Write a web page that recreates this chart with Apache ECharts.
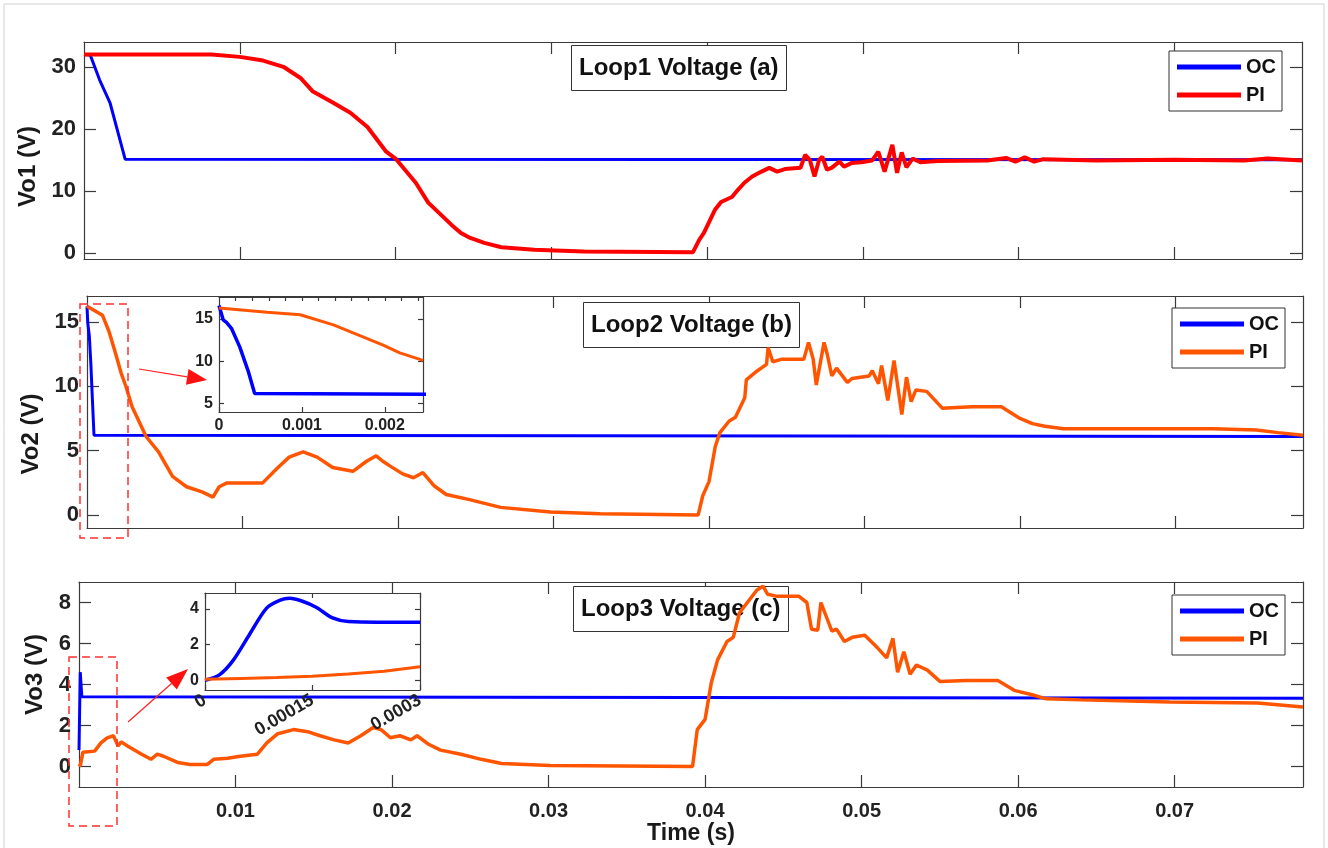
<!DOCTYPE html>
<html>
<head>
<meta charset="utf-8">
<title>Loop voltages</title>
<script src="https://cdn.jsdelivr.net/npm/echarts@6.0.0/dist/echarts.min.js"></script>
<style>
  html, body { margin: 0; padding: 0; background: #fff; }
  #chart { width: 1328px; height: 848px; }
</style>
</head>
<body>
<div id="chart"></div>
<script>
// ---- data: [time (s), voltage (V)] ----
var loop1OC = [[0, 32], [0.0004, 31.9], [0.001, 27.9], [0.00167, 24.2], [0.00264, 15.1], [0.0782, 15.0]];
var loop1PI = [[0, 32], [0.0082, 32], [0.0100, 31.6], [0.0115, 31.0], [0.0128, 30.0], [0.0139, 28.2],
  [0.0147, 26.0], [0.0160, 24.2], [0.0171, 22.6], [0.0182, 20.3], [0.0194, 16.3], [0.0200, 15.2],
  [0.0213, 11.3], [0.0221, 8.1], [0.0236, 4.5], [0.0242, 3.2], [0.0248, 2.4], [0.0257, 1.6],
  [0.0268, 0.9], [0.0289, 0.5], [0.0321, 0.2], [0.0391, 0.1], [0.0395, 2.1], [0.0398, 3.2],
  [0.0401, 4.8], [0.0405, 6.9], [0.0409, 8.2], [0.0416, 9.0], [0.0420, 10.2], [0.0424, 11.3],
  [0.0429, 12.3], [0.0435, 13.1], [0.0440, 13.7], [0.0445, 13.1], [0.0450, 13.5], [0.0460, 13.7],
  [0.0463, 15.8], [0.0466, 15.0], [0.0469, 12.3], [0.0472, 15.0], [0.0474, 15.5], [0.0477, 13.4],
  [0.0480, 13.7], [0.0485, 14.7], [0.0488, 13.9], [0.0493, 14.5], [0.0499, 14.6], [0.0506, 14.9],
  [0.0510, 16.3], [0.0514, 13.1], [0.0519, 17.4], [0.0522, 12.9], [0.0525, 16.2], [0.0528, 13.8],
  [0.0532, 15.2], [0.0537, 14.6], [0.0548, 14.8], [0.0580, 14.9], [0.0592, 15.3], [0.0598, 14.7],
  [0.0604, 15.4], [0.0610, 14.7], [0.0616, 15.1], [0.0650, 14.9], [0.0700, 15.0], [0.0745, 14.9],
  [0.0760, 15.2], [0.0782, 14.9]];

var loop2OC = [[0, 16.2], [0.00005, 14.9], [0.00015, 13.9], [0.00025, 11.7], [0.00035, 8.9],
  [0.00045, 6.2], [0.0782, 6.1]];
var loop2PI = [[0, 16.2], [0.0010, 15.5], [0.0014, 14.3], [0.0018, 12.7], [0.0022, 11.0], [0.0025, 10.0],
  [0.0029, 8.4], [0.0038, 6.1], [0.0046, 4.9], [0.0055, 3.0], [0.0064, 2.2], [0.0074, 1.8],
  [0.0081, 1.4], [0.0085, 2.2], [0.0090, 2.5], [0.0113, 2.5], [0.0122, 3.6], [0.0130, 4.5],
  [0.0139, 4.9], [0.0148, 4.5], [0.0158, 3.7], [0.0171, 3.4], [0.0180, 4.2], [0.0186, 4.6],
  [0.0190, 4.2], [0.0195, 3.8], [0.0203, 3.2], [0.0210, 2.9], [0.0216, 3.3], [0.0223, 2.3],
  [0.0231, 1.6], [0.0246, 1.2], [0.0266, 0.6], [0.0298, 0.25], [0.0330, 0.1], [0.0393, 0],
  [0.0396, 1.5], [0.0400, 2.6], [0.0404, 5.3], [0.0407, 6.4], [0.0413, 7.3], [0.0417, 7.6],
  [0.0423, 9.1], [0.0424, 10.5], [0.0430, 11.1], [0.0437, 11.7], [0.0438, 13.0], [0.0441, 11.9],
  [0.0447, 12.1], [0.0461, 12.1], [0.0464, 13.4], [0.0467, 12.1], [0.0469, 10.1], [0.0474, 13.4],
  [0.0476, 12.5], [0.0479, 10.8], [0.0482, 11.4], [0.0489, 10.3], [0.0492, 10.6], [0.0503, 10.8],
  [0.0505, 11.2], [0.0509, 10.2], [0.0511, 11.6], [0.0515, 8.9], [0.0519, 12.0], [0.0524, 7.8],
  [0.0527, 10.7], [0.0530, 8.8], [0.0533, 9.7], [0.0540, 9.6], [0.0550, 8.3], [0.0569, 8.4],
  [0.0588, 8.4], [0.0600, 7.5], [0.0608, 7.1], [0.0616, 6.9], [0.0628, 6.7], [0.0667, 6.7],
  [0.0724, 6.7], [0.0752, 6.6], [0.0766, 6.4], [0.0782, 6.2]];
var loop2InsetOC = [[0, 16.6], [0.00005, 14.9], [0.00009, 14.6], [0.00015, 13.9], [0.00025, 11.7],
  [0.00035, 8.9], [0.00043, 6.2], [0.0025, 6.1]];
var loop2InsetPI = [[0, 16.3], [0.00058, 15.8], [0.00098, 15.5], [0.00138, 14.3], [0.00178, 12.7],
  [0.00198, 11.9], [0.00218, 11.0], [0.00246, 10.1]];

var loop3OC = [[0, 0.8], [0.00008, 4.6], [0.00018, 3.4], [0.0782, 3.33]];
var loop3PI = [[0, 0], [0.0001, 0.1], [0.00025, 0.7], [0.0010, 0.75], [0.0014, 1.15], [0.0018, 1.4],
  [0.0022, 1.5], [0.0025, 1.0], [0.0027, 1.2], [0.0031, 1.0], [0.0040, 0.6], [0.0046, 0.35],
  [0.0050, 0.6], [0.0054, 0.5], [0.0063, 0.2], [0.0071, 0.1], [0.0082, 0.1], [0.0086, 0.35],
  [0.0095, 0.4], [0.0103, 0.5], [0.0114, 0.6], [0.0120, 1.15], [0.0127, 1.6], [0.0137, 1.8],
  [0.0146, 1.7], [0.0154, 1.5], [0.0163, 1.3], [0.0172, 1.15], [0.0180, 1.5], [0.0188, 1.9],
  [0.0193, 1.8], [0.0199, 1.4], [0.0205, 1.5], [0.0212, 1.3], [0.0216, 1.5], [0.0223, 1.1],
  [0.0231, 0.8], [0.0244, 0.6], [0.0257, 0.35], [0.0270, 0.15], [0.0301, 0.05], [0.0392, 0],
  [0.0395, 1.8], [0.0400, 2.3], [0.0404, 4.1], [0.0408, 5.2], [0.0414, 6.1], [0.0418, 6.3],
  [0.0422, 7.5], [0.0428, 8.1], [0.0433, 8.6], [0.0437, 8.8], [0.0440, 8.4], [0.0446, 8.3],
  [0.0460, 8.3], [0.0465, 8.0], [0.0468, 6.7], [0.0472, 6.65], [0.0474, 8.0], [0.0479, 7.0],
  [0.0481, 6.6], [0.0484, 6.7], [0.0489, 6.1], [0.0494, 6.3], [0.0502, 6.4], [0.0510, 5.8],
  [0.0516, 5.3], [0.0520, 6.25], [0.0523, 4.6], [0.0527, 5.6], [0.0531, 4.5], [0.0535, 4.95],
  [0.0542, 4.7], [0.0550, 4.15], [0.0567, 4.2], [0.0587, 4.2], [0.0598, 3.7], [0.0609, 3.5],
  [0.0618, 3.3], [0.0640, 3.25], [0.0697, 3.15], [0.0753, 3.1], [0.0782, 2.9]];
var loop3InsetOC = [[0, 0], [0.00002, 0.3], [0.000039, 1.1], [0.0000625, 2.6], [0.000086, 4.05],
  [0.000105, 4.5], [0.000118, 4.6], [0.000135, 4.45], [0.000155, 4.1], [0.000178, 3.5],
  [0.0002, 3.3], [0.0003, 3.25]];
var loop3InsetPI = [[0, 0.05], [0.00005, 0.1], [0.0001, 0.15], [0.00015, 0.22], [0.0002, 0.35],
  [0.00025, 0.5], [0.0003, 0.75]];

// ---- tick values ----
var timeTicks = [0.01, 0.02, 0.03, 0.04, 0.05, 0.06, 0.07];
var vo1Ticks = [0, 10, 20, 30];
var vo2Ticks = [0, 5, 10, 15];
var vo3Ticks = [0, 2, 4, 6, 8];
var inset2TimeTicks = [0, 0.001, 0.002];
var inset2MinorTicks = [0.0002, 0.0004, 0.0006, 0.0008, 0.001, 0.0012, 0.0014, 0.0016, 0.0018, 0.002, 0.0022, 0.0024];
var inset2VoltTicks = [5, 10, 15];
var inset3TimeTicks = [0, 0.00015, 0.0003];
var inset3VoltTicks = [0, 2, 4];

var FONT = '"Liberation Sans", Arial, Helvetica, sans-serif';
var AXIS = '#3a3a3a';
var BLUE = '#0000ff';
var RED = '#ff0000';
var ORANGE = '#ff5500';
var xMax = 0.0782;

var myChart = echarts.init(document.getElementById('chart'), null, { renderer: 'canvas' });

function fmt(v) { return String(v); }

// value axis with inward ticks; labels optional
function axis(o) {
  return {
    type: 'value',
    gridIndex: o.grid,
    position: o.position,
    min: o.min,
    max: o.max,
    z: o.z || 0,
    name: o.name || '',
    nameLocation: 'middle',
    nameGap: o.nameGap || 30,
    nameTextStyle: { fontFamily: FONT, fontSize: o.nameSize || 23, fontWeight: 'bold', color: '#1a1a1a',
      padding: o.namePad || 0 },
    axisLine: { show: true, onZero: false, lineStyle: { color: AXIS, width: 1.2 } },
    axisTick: { show: true, inside: true, length: o.tickLen || 12, customValues: o.ticks,
      lineStyle: { color: AXIS, width: 1.2 } },
    axisLabel: o.labels ? {
      show: true, customValues: o.ticks, formatter: fmt, margin: o.margin || 8,
      rotate: o.rotate || 0,
      fontFamily: FONT, fontSize: o.fontSize || 20, fontWeight: 'bold', color: '#222'
    } : { show: false },
    splitLine: { show: false }
  };
}

function line(name, data, color, width, xi, yi, z, smooth) {
  return {
    name: name, type: 'line', data: data, xAxisIndex: xi, yAxisIndex: yi,
    color: color, symbol: 'none', showSymbol: false, smooth: smooth || false,
    z: z || 2, lineStyle: { color: color, width: width }, animation: false
  };
}

function legend(names, left, top) {
  return {
    data: names, orient: 'vertical', left: left, top: top,
    padding: [6, 6, 6, 8], itemGap: 8, itemWidth: 64, itemHeight: 5, itemTextGap: 6,
    icon: 'rect', backgroundColor: '#fff', borderColor: '#333', borderWidth: 1,
    formatter: function (n) { return n.trim(); },
    textStyle: { fontFamily: FONT, fontSize: 20, fontWeight: 'bold', color: '#111' },
    selectedMode: false
  };
}

function boxTitle(text, left, top) {
  return {
    text: text, left: left, top: top, padding: [11, 8], z: 1,
    backgroundColor: '#fff', borderColor: '#333', borderWidth: 1,
    textStyle: { fontFamily: FONT, fontSize: 24, fontWeight: 'bold', color: '#111', lineHeight: 24 }
  };
}

function arrow(x1, y1, x2, y2, len, half) {
  var dx = x2 - x1, dy = y2 - y1, d = Math.sqrt(dx * dx + dy * dy);
  var ux = dx / d, uy = dy / d, bx = x2 - ux * len, by = y2 - uy * len;
  return [
    { type: 'line', shape: { x1: x1, y1: y1, x2: bx, y2: by }, style: { stroke: '#ff2020', lineWidth: 1.2 }, z: 20 },
    { type: 'polygon', shape: { points: [[x2, y2], [bx - uy * half, by + ux * half], [bx + uy * half, by - ux * half]] },
      style: { fill: '#ff1010' }, z: 20 }
  ];
}

var grids = [
  { left: 84, top: 42, width: 1218, height: 217 },
  { left: 87, top: 296, width: 1216, height: 232 },
  { left: 79, top: 582, width: 1224, height: 205 },
  { left: 219, top: 297, width: 204, height: 115, show: true, backgroundColor: '#fff', borderWidth: 0, z: 10 },
  { left: 205, top: 593, width: 215, height: 97, show: true, backgroundColor: '#fff', borderWidth: 0, z: 10 }
];

var xAxes = [
  axis({ grid: 0, position: 'bottom', min: 0, max: xMax, ticks: timeTicks }),
  axis({ grid: 1, position: 'bottom', min: 0, max: xMax, ticks: timeTicks }),
  axis({ grid: 2, position: 'bottom', min: 0, max: xMax, ticks: timeTicks, labels: true, margin: 14,
    name: 'Time (s)', nameGap: 33 }),
  axis({ grid: 0, position: 'top', min: 0, max: xMax, ticks: timeTicks }),
  axis({ grid: 1, position: 'top', min: 0, max: xMax, ticks: timeTicks }),
  axis({ grid: 2, position: 'top', min: 0, max: xMax, ticks: timeTicks }),
  axis({ grid: 3, position: 'bottom', min: 0, max: 0.00246, ticks: inset2TimeTicks, labels: true,
    tickLen: 5, fontSize: 16, margin: 6, z: 11 }),
  axis({ grid: 3, position: 'top', min: 0, max: 0.00246, ticks: inset2MinorTicks, tickLen: 4, z: 11 }),
  axis({ grid: 4, position: 'bottom', min: 0, max: 0.0003, ticks: inset3TimeTicks, labels: true,
    tickLen: 5, fontSize: 18, margin: 9, rotate: 30, z: 11 }),
  axis({ grid: 4, position: 'top', min: 0, max: 0.0003, ticks: inset3TimeTicks, tickLen: 5, z: 11 })
];

var yAxes = [
  axis({ grid: 0, position: 'left', min: -1, max: 34, ticks: vo1Ticks, labels: true, fontSize: 22,
    name: 'Vo1 (V)', nameGap: 34, nameSize: 24, namePad: [0, 32, 0, 0] }),
  axis({ grid: 1, position: 'left', min: -1, max: 17, ticks: vo2Ticks, labels: true, fontSize: 22,
    name: 'Vo2 (V)', nameGap: 34, nameSize: 24, namePad: [0, 44, 0, 0] }),
  axis({ grid: 2, position: 'left', min: -1, max: 9, ticks: vo3Ticks, labels: true, fontSize: 22,
    name: 'Vo3 (V)', nameGap: 25, nameSize: 24, namePad: [0, 0, 0, 20] }),
  axis({ grid: 0, position: 'right', min: -1, max: 34, ticks: vo1Ticks }),
  axis({ grid: 1, position: 'right', min: -1, max: 17, ticks: vo2Ticks }),
  axis({ grid: 2, position: 'right', min: -1, max: 9, ticks: vo3Ticks }),
  axis({ grid: 3, position: 'left', min: 4, max: 17.6, ticks: inset2VoltTicks, labels: true,
    tickLen: 5, fontSize: 16, margin: 6, z: 11 }),
  axis({ grid: 3, position: 'right', min: 4, max: 17.6, ticks: inset2VoltTicks, tickLen: 5, z: 11 }),
  axis({ grid: 4, position: 'left', min: -0.55, max: 4.9, ticks: inset3VoltTicks, labels: true,
    tickLen: 5, fontSize: 16, margin: 6, z: 11 }),
  axis({ grid: 4, position: 'right', min: -0.55, max: 4.9, ticks: inset3VoltTicks, tickLen: 5, z: 11 })
];

var graphics = [
  { type: 'rect', shape: { x: 4, y: 4, width: 1320, height: 846 }, style: { fill: 'none', stroke: '#d2d2d2', lineWidth: 1 }, z: 0 },
  { type: 'rect', shape: { x: 80, y: 304, width: 48, height: 234 },
    style: { fill: 'none', stroke: '#ff3030', lineWidth: 1.5, lineDash: [8, 5] }, z: 20 },
  { type: 'rect', shape: { x: 69, y: 657, width: 48, height: 169 },
    style: { fill: 'none', stroke: '#ff3030', lineWidth: 1.5, lineDash: [8, 5] }, z: 20 }
].concat(arrow(139, 369, 207, 380, 20, 8)).concat(arrow(128, 722, 188, 669, 22, 8));

myChart.setOption({
  backgroundColor: '#fff',
  animation: false,
  title: [
    boxTitle('Loop1 Voltage (a)', 571, 45),
    boxTitle('Loop2 Voltage (b)', 583, 302),
    boxTitle('Loop3 Voltage (c)', 573, 586)
  ],
  legend: [
    legend(['OC', 'PI'], 1169, 51),
    legend(['OC ', 'PI '], 1172, 308),
    legend(['OC  ', 'PI  '], 1172, 595)
  ],
  grid: grids,
  xAxis: xAxes,
  yAxis: yAxes,
  graphic: graphics,
  series: [
    line('OC', loop1OC, BLUE, 3, 0, 0),
    line('PI', loop1PI, RED, 4, 0, 0),
    line('OC ', loop2OC, BLUE, 3, 1, 1),
    line('PI ', loop2PI, ORANGE, 3.5, 1, 1),
    line('OC  ', loop3OC, BLUE, 3, 2, 2),
    line('PI  ', loop3PI, ORANGE, 3.5, 2, 2),
    line('OC inset b', loop2InsetOC, BLUE, 3.5, 6, 6, 12),
    line('PI inset b', loop2InsetPI, ORANGE, 3, 6, 6, 12),
    line('OC inset c', loop3InsetOC, BLUE, 3.5, 8, 8, 12, 0.3),
    line('PI inset c', loop3InsetPI, ORANGE, 3, 8, 8, 12)
  ]
});
</script>
</body>
</html>
